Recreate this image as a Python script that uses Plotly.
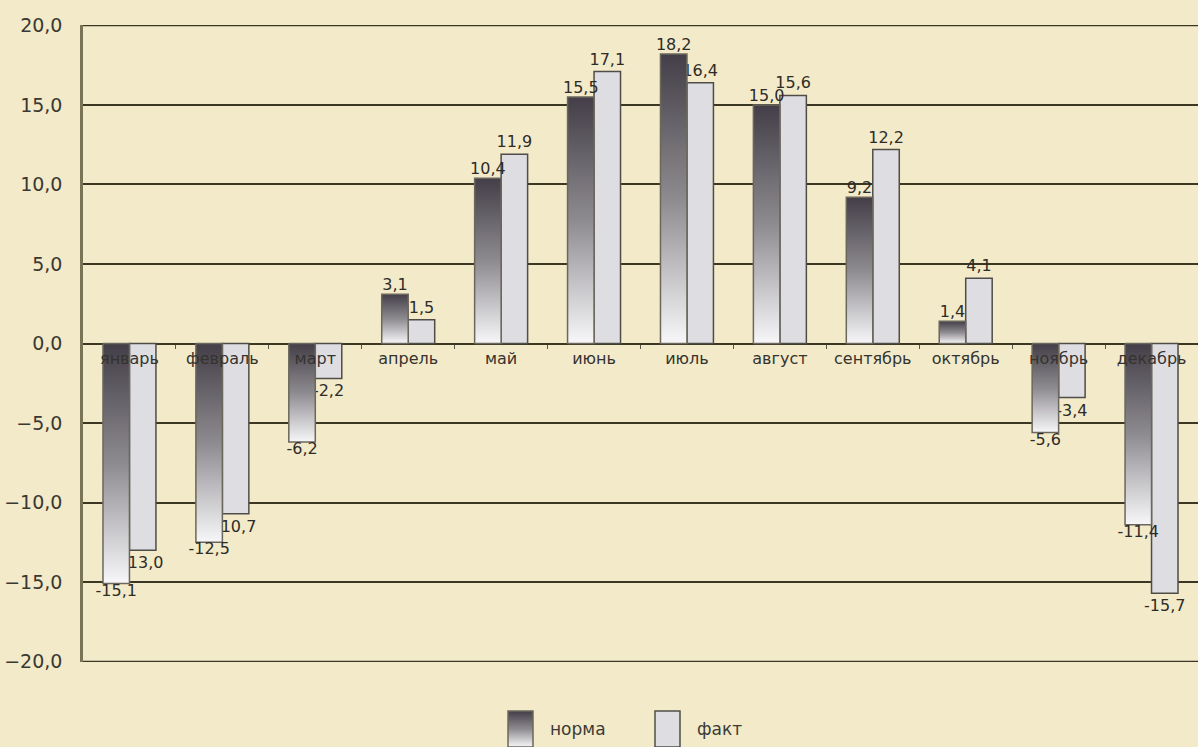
import plotly.graph_objects as go

# Monthly mean air temperature: climate norm vs. actual
months = ["январь", "февраль", "март", "апрель", "май", "июнь",
          "июль", "август", "сентябрь", "октябрь", "ноябрь", "декабрь"]
norma = [-15.1, -12.5, -6.2, 3.1, 10.4, 15.5, 18.2, 15.0, 9.2, 1.4, -5.6, -11.4]
fakt = [-13.0, -10.7, -2.2, 1.5, 11.9, 17.1, 16.4, 15.6, 12.2, 4.1, -3.4, -15.7]
y_ticks = [-20, -15, -10, -5, 0, 5, 10, 15, 20]
series_names = ["норма", "факт"]

W, H = 1198, 747
BAR_W = 0.285
BG = "#f2eac8"
GRID = "#3b3722"
NORMA_SCALE = [[0.0, "#f7f7f9"], [0.5, "#8e8b90"], [1.0, "#433e47"]]
NORMA_LINE = "#6b675c"
FAKT_FILL = "#dedee2"
FAKT_LINE = "#4f4d48"
TXT = "#2e2c28"

# main plot area (paper fractions)
x_dom = [83 / W, 1.0]
y_dom = [85 / H, 1 - 25 / H]
zero_pos = (y_dom[0] + y_dom[1]) / 2

idx = list(range(len(months)))


def fmt(v):
    return f"{v:.1f}".replace(".", ",")


fig = go.Figure()

# "норма" bars: one polygon per bar so each gets its own vertical gradient
for i, v in zip(idx, norma):
    x0, x1 = i - BAR_W, i
    fig.add_trace(go.Scatter(
        x=[x0, x0, x1, x1, x0], y=[0, v, v, 0, 0],
        mode="lines", fill="toself",
        fillgradient=dict(type="vertical", colorscale=NORMA_SCALE),
        line=dict(color=NORMA_LINE, width=1.5),
        name=series_names[0], showlegend=False, hoverinfo="skip",
    ))

# "факт" bars
fig.add_trace(go.Bar(
    x=idx, y=fakt, width=BAR_W, offset=0,
    marker=dict(color=FAKT_FILL, line=dict(color=FAKT_LINE, width=1.5)),
    text=[fmt(v) for v in fakt], textposition="outside",
    constraintext="none", cliponaxis=False,
    textfont=dict(family="DejaVu Sans", size=16, color=TXT),
    name=series_names[1], showlegend=False,
))

# value labels of the "норма" bars
fig.add_trace(go.Scatter(
    x=[i - BAR_W / 2 for i in idx], y=norma, mode="text",
    text=[fmt(v) for v in norma],
    textposition=["top center" if v >= 0 else "bottom center" for v in norma],
    textfont=dict(family="DejaVu Sans", size=16, color=TXT),
    showlegend=False, hoverinfo="skip", cliponaxis=False,
))

# outer grid lines at the ends of the value range
for v in (y_ticks[0], y_ticks[-1]):
    fig.add_shape(type="line", xref="x domain", x0=0, x1=1, yref="y",
                  y0=v, y1=v, line=dict(color=GRID, width=1.5), layer="below")

# legend keys, drawn on a full-page pixel axis pair
LX_N, LX_F, L_W, L_H = 508, 655, 25, 36
fig.add_trace(go.Scatter(
    x=[LX_N, LX_N, LX_N + L_W, LX_N + L_W, LX_N], y=[0, L_H, L_H, 0, 0],
    xaxis="x2", yaxis="y2", mode="lines", fill="toself",
    fillgradient=dict(type="vertical", colorscale=NORMA_SCALE),
    line=dict(color=NORMA_LINE, width=1.5),
    showlegend=False, hoverinfo="skip",
))
fig.add_trace(go.Scatter(
    x=[LX_F, LX_F, LX_F + L_W, LX_F + L_W, LX_F], y=[0, L_H, L_H, 0, 0],
    xaxis="x2", yaxis="y2", mode="lines", fill="toself",
    fillcolor=FAKT_FILL, line=dict(color=FAKT_LINE, width=1.5),
    showlegend=False, hoverinfo="skip",
))
for xl, name in zip([LX_N + L_W + 15, LX_F + L_W + 15], series_names):
    fig.add_annotation(
        x=xl, y=18, xref="x2", yref="y2", text=name, showarrow=False,
        xanchor="left", yanchor="middle",
        font=dict(family="DejaVu Sans", size=17, color="#3c3a36"),
    )

fig.update_layout(
    width=W, height=H,
    margin=dict(l=0, r=0, t=0, b=0),
    paper_bgcolor=BG, plot_bgcolor="rgba(0,0,0,0)",
    separators=", ",
    showlegend=False,
    xaxis=dict(
        domain=x_dom, range=[-0.5, len(months) - 0.5],
        tickmode="array", tickvals=idx, ticktext=months,
        ticks="", showgrid=False, zeroline=False, showline=False,
        anchor="free", position=zero_pos, automargin=False,
        ticklabelstandoff=3,
        tickfont=dict(family="DejaVu Sans", size=16, color="#35332f"),
        minor=dict(tickmode="array", tickvals=[i + 0.5 for i in idx[:-1]],
                   ticks="outside", ticklen=4, tickwidth=1, tickcolor="#5a564a"),
        fixedrange=True,
    ),
    yaxis=dict(
        domain=y_dom, range=[-20.03, 20.03], automargin=False,
        tickmode="array", tickvals=y_ticks, tickformat=".1f",
        showgrid=True, gridcolor=GRID, gridwidth=1.5,
        zeroline=True, zerolinecolor=GRID, zerolinewidth=1.5,
        showline=True, linecolor="#7a7457", linewidth=2.5,
        ticks="", ticklabelstandoff=14,
        tickfont=dict(family="DejaVu Sans", size=19, color="#3a3833"),
        fixedrange=True,
    ),
    xaxis2=dict(domain=[0, 1], range=[0, W], visible=False, anchor="y2",
                automargin=False, fixedrange=True),
    yaxis2=dict(domain=[0, 1], range=[0, H], visible=False, anchor="x2",
                automargin=False, fixedrange=True),
)

fig.write_html("out.html")
